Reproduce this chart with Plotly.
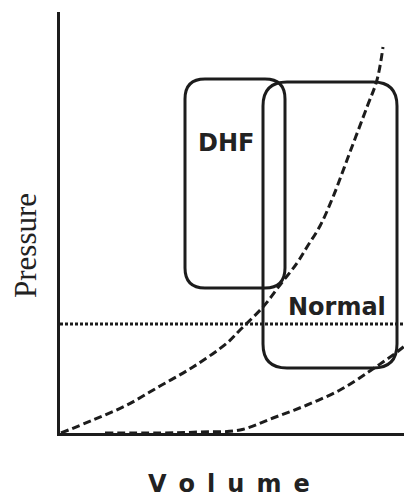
import plotly.graph_objects as go

# ---- data (arbitrary volume / pressure units) ----
curve1_volume = [1, 33, 67, 100, 133, 167, 180, 203, 220, 237, 247, 260, 273, 290, 307, 317, 323]
curve1_pressure = [0, 13, 28, 47, 66, 90, 103, 126, 148, 170, 186, 207, 236, 281, 326, 353, 386]

curve2_volume = [45, 100, 140, 180, 213, 247, 280, 307, 323, 337, 352]
curve2_pressure = [0, 0, 1, 3, 15, 28, 43, 60, 71, 81, 93]

threshold_pressure = 109

box_names = ["DHF", "Normal"]
box_vol_min = [125, 203]
box_vol_max = [225, 337]
box_pres_min = [145, 65]
box_pres_max = [354, 351]
label_vol = [166, 277]
label_pres = [290, 126]

x_title = "V\u2002o\u2002l\u2002u\u2002m\u2002e"
y_title = "Pressure"

INK = "#1c1c1c"
X_MAX, Y_MAX = 352, 421


def rounded_path(x0, x1, y0, y1, r):
    return (f"M {x0+r},{y1} L {x1-r},{y1} Q {x1},{y1} {x1},{y1-r} "
            f"L {x1},{y0+r} Q {x1},{y0} {x1-r},{y0} "
            f"L {x0+r},{y0} Q {x0},{y0} {x0},{y0+r} "
            f"L {x0},{y1-r} Q {x0},{y1} {x0+r},{y1} Z")


fig = go.Figure()
fig.add_trace(go.Scatter(x=curve1_volume, y=curve1_pressure, mode="lines",
                         line=dict(color=INK, width=3, dash="8px,4px", shape="spline"),
                         hoverinfo="skip", showlegend=False))
fig.add_trace(go.Scatter(x=curve2_volume, y=curve2_pressure, mode="lines",
                         line=dict(color=INK, width=3, dash="8px,4px", shape="spline"),
                         hoverinfo="skip", showlegend=False))
fig.add_trace(go.Scatter(x=[0, X_MAX], y=[threshold_pressure, threshold_pressure], mode="lines",
                         line=dict(color=INK, width=3, dash="3px,2px"),
                         hoverinfo="skip", showlegend=False))

radii = [20, 24]
for i, name in enumerate(box_names):
    fig.add_shape(type="path", xref="x", yref="y",
                  path=rounded_path(box_vol_min[i], box_vol_max[i], box_pres_min[i], box_pres_max[i], radii[i]),
                  line=dict(color=INK, width=3))
    fig.add_annotation(x=label_vol[i], y=label_pres[i], xref="x", yref="y", text=f"<b>{name}</b>",
                       showarrow=False, xanchor="center", yanchor="middle",
                       font=dict(family="DejaVu Sans", size=24, color="#222"))

fig.add_annotation(x=(25 - 60) / 352, y=(433 - 246) / 421, xref="paper", yref="paper",
                   text=y_title, textangle=-90, showarrow=False, xanchor="center", yanchor="middle",
                   font=dict(family="Liberation Serif", size=31, color="#222"))
fig.add_annotation(x=(229 - 60) / 352, y=(433 - 484) / 421, xref="paper", yref="paper",
                   text=f"<b>{x_title}</b>", showarrow=False, xanchor="center", yanchor="middle",
                   font=dict(family="DejaVu Sans", size=24, color="#222"))

fig.update_xaxes(range=[0, X_MAX], showgrid=False, zeroline=False, showticklabels=False,
                 ticks="", showline=True, linecolor=INK, linewidth=3, fixedrange=True)
fig.update_yaxes(range=[0, Y_MAX], showgrid=False, zeroline=False, showticklabels=False,
                 ticks="", showline=True, linecolor=INK, linewidth=3, fixedrange=True)
# page body has an 8px margin, so the figure is 8px smaller and its margins 8px tighter
fig.update_layout(width=404, height=490, margin=dict(l=52, r=0, t=4, b=65),
                  paper_bgcolor="white", plot_bgcolor="white")

fig.write_html("out.html", config={"displayModeBar": False})
